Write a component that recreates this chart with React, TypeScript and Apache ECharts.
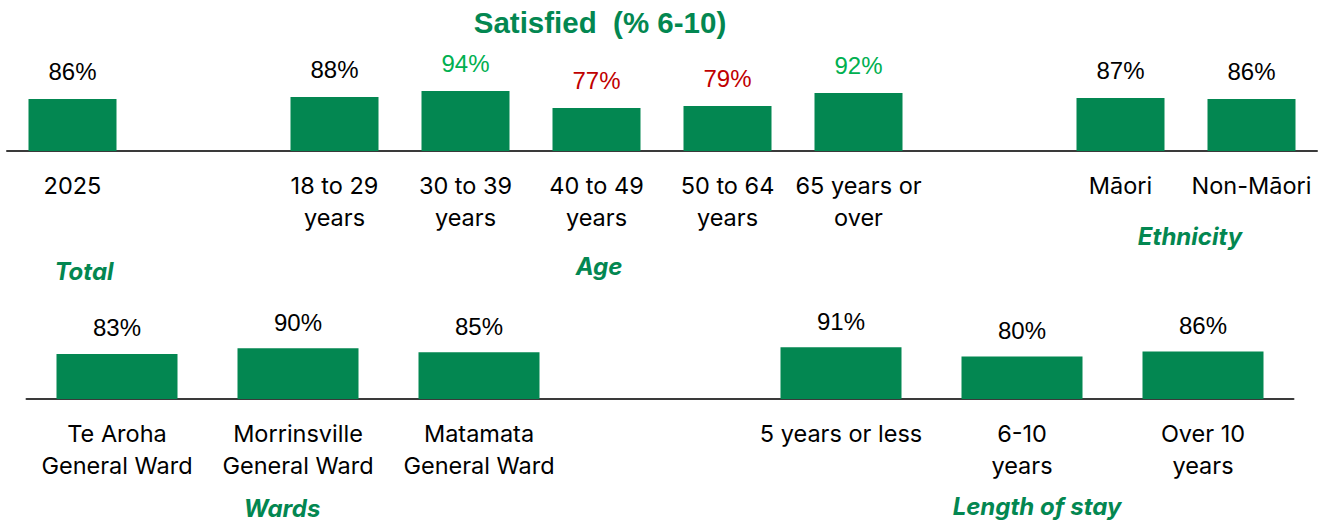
import React, { useEffect, useRef } from "react";
import * as echarts from "echarts";

const title = "Satisfied  (% 6-10)";

const topCategories = [
  "2025",
  "",
  "18 to 29\nyears",
  "30 to 39\nyears",
  "40 to 49\nyears",
  "50 to 64\nyears",
  "65 years or\nover",
  "",
  "Māori",
  "Non-Māori",
];
const topValues: (number | null)[] = [86, null, 88, 94, 77, 79, 92, null, 87, 86];
const topSignificance = ["", "", "", "higher", "lower", "lower", "higher", "", "", ""];

const bottomCategories = [
  "Te Aroha\nGeneral Ward",
  "Morrinsville\nGeneral Ward",
  "Matamata\nGeneral Ward",
  "",
  "5 years or less",
  "6-10\nyears",
  "Over 10\nyears",
];
const bottomValues: (number | null)[] = [83, 90, 85, null, 91, 80, 86];
const bottomSignificance = ["", "", "", "", "", "", ""];

const groupNames = ["Total", "Age", "Ethnicity", "Wards", "Length of stay"];

const GREEN = "#038751";
const sigColor = (s: string) => (s === "higher" ? "#00b050" : s === "lower" ? "#c00000" : "#000000");

export default function App() {
  const ref = useRef<HTMLDivElement>(null);
  useEffect(() => {
    if (!ref.current) return;
    const chart = echarts.init(ref.current, null, { renderer: "svg" });
    const catLabel = {
      interval: 0,
      fontSize: 23.5,
      lineHeight: 32,
      margin: 18,
      color: "#000",
      fontFamily: "Inter",
    };
    const axisLine = { show: true, lineStyle: { color: "#3a3a3a", width: 2 } };
    const groupPos = [
      [84, 271],
      [599, 266],
      [1190, 236],
      [282, 508],
      [1037, 506],
    ];
    chart.setOption({
      animation: false,
      backgroundColor: "#ffffff",
      grid: [
        { left: 7, right: 6, top: 51, bottom: 372 },
        { left: 26.5, right: 29.5, top: 299, bottom: 124 },
      ],
      xAxis: [
        {
          type: "category",
          gridIndex: 0,
          data: topCategories,
          axisTick: { show: false },
          axisLine,
          axisLabel: catLabel,
        },
        {
          type: "category",
          gridIndex: 1,
          data: bottomCategories,
          axisTick: { show: false },
          axisLine,
          axisLabel: catLabel,
        },
      ],
      yAxis: [
        { type: "value", gridIndex: 0, min: 34, max: 134, show: false, splitLine: { show: false } },
        { type: "value", gridIndex: 1, min: 28, max: 150, show: false, splitLine: { show: false } },
      ],
      series: [
        {
          type: "bar",
          xAxisIndex: 0,
          yAxisIndex: 0,
          barWidth: 88,
          itemStyle: { color: GREEN },
          data: topValues.map((v, i) => ({
            value: v,
            label: { color: sigColor(topSignificance[i]) },
          })),
          label: {
            show: true,
            position: "top",
            distance: 16,
            formatter: "{c}%",
            fontSize: 24,
            fontFamily: "Liberation Sans",
          },
        },
        {
          type: "bar",
          xAxisIndex: 1,
          yAxisIndex: 1,
          barWidth: 121,
          itemStyle: { color: GREEN },
          data: bottomValues.map((v, i) => ({
            value: v,
            label: { color: sigColor(bottomSignificance[i]) },
          })),
          label: {
            show: true,
            position: "top",
            distance: 14,
            formatter: "{c}%",
            fontSize: 24,
            fontFamily: "Liberation Sans",
          },
        },
      ],
      graphic: [
        {
          type: "text",
          x: 600,
          y: 22,
          style: {
            text: title,
            fill: GREEN,
            font: "bold 29.5px 'Liberation Sans', Arial, sans-serif",
            textAlign: "center",
            textVerticalAlign: "middle",
          },
        },
        ...groupNames.map((g, i) => ({
          type: "text",
          x: groupPos[i][0],
          y: groupPos[i][1],
          style: {
            text: g,
            fill: GREEN,
            font: "italic bold 24px Inter, sans-serif",
            textAlign: "center",
            textVerticalAlign: "middle",
          },
        })),
      ],
    });
    return () => chart.dispose();
  }, []);
  return (
    <div
      ref={ref}
      style={{ position: "fixed", left: 0, top: 0, width: 1323, height: 523 }}
    />
  );
}
